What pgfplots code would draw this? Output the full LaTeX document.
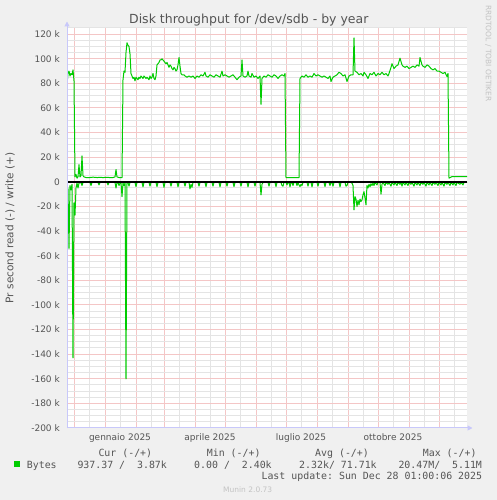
\documentclass[border=0pt]{standalone}
\usepackage{pgfplots}
\pgfplotsset{compat=1.18}
\usepackage{fontspec}
\setmainfont{DejaVu Sans}
\setmonofont{DejaVu Sans Mono}
\usetikzlibrary{arrows.meta}
\definecolor{bg}{RGB}{240,240,240}
\definecolor{mgrid}{RGB}{244,198,198}
\definecolor{ngrid}{RGB}{228,228,228}
\definecolor{axisc}{RGB}{200,200,250}
\definecolor{txt}{RGB}{85,85,85}
\definecolor{munin}{RGB}{0,204,0}
\definecolor{wm}{RGB}{195,195,195}
\begin{document}
\begin{tikzpicture}[x=1pt,y=1pt]
\useasboundingbox (0,0) rectangle (497,500);
\fill[bg] (0,0) rectangle (497,500);
\fill[white] (67,72) rectangle (467,472);
\begin{axis}[at={(67pt,72pt)}, anchor=south west, width=400pt, height=400pt, scale only axis,
 xmin=-38, xmax=362, ymin=-200, ymax=125,
 axis line style={draw=none},
 xtick={-31,0,31,59,90,120,151,181,212,243,273,304,334}, xticklabels={},
 minor xtick={-16,15,46,74,105,135,166,196,227,258,288,319,349},
 ytick={-200,-180,-160,-140,-120,-100,-80,-60,-40,-20,0,20,40,60,80,100,120},
 yticklabels={-200 k,-180 k,-160 k,-140 k,-120 k,-100 k,-80 k,-60 k,-40 k,-20 k,0,20 k,40 k,60 k,80 k,100 k,120 k},
 minor ytick={-195,-190,-185,-175,-170,-165,-155,-150,-145,-135,-130,-125,-115,-110,-105,-95,-90,-85,-75,-70,-65,-55,-50,-45,-35,-30,-25,-15,-10,-5,5,10,15,25,30,35,45,50,55,65,70,75,85,90,95,105,110,115,125},
 grid=both,
 major grid style={draw=mgrid, line width=1pt, solid},
 minor grid style={draw=ngrid, line width=1pt, solid},
 major tick length=0pt, minor tick length=0pt,
 tick label style={font=\fontsize{9}{10}\selectfont, text=txt},
 yticklabel style={anchor=east, inner sep=0pt, xshift=-7pt},
 extra x ticks={15,105,196,288},
 extra x tick labels={gennaio 2025, aprile 2025, luglio 2025, ottobre 2025},
 extra x tick style={grid=none, xticklabel style={anchor=base, inner sep=0pt, yshift=-12.6pt}},
 axis background/.style={fill=white}]
\addplot[munin, line width=1pt, line join=round] coordinates {
(-38,79) (-37,88) (-36,90) (-35,86) (-34,88) (-33,87) (-32,91) (-31,82) (-30,4) (-29,6) (-28,3) (-27,4) (-26,14) (-25,4) (-24,5) (-23,21) (-22,5) (-21,4) (-19,3.5) (-15,3.5) (-12,3.8) (-8,3.5) (-5,3.6) (-2,3.5) (2,3.6) (5,3.5) (8,3.5) (10,4) (11,10) (12,4) (14,3.5) (17,3.5) (18,83) (19,90) (20,89) (21,105) (22,113) (23,111) (24,110) (25,104) (26,88) (27,86) (28,84) (29,85) (30,82) (31,85) (32,84) (33,83) (34,85) (35,84) (36,86) (37,85) (38,84) (39,86) (40,85) (41,84) (42,85) (43,84) (44,83) (45,86) (46,84) (47,85) (48,88) (49,84) (50,83) (51,86) (52,95) (53,96) (54,97) (55,99) (56,99) (57,100) (58,99) (59,98) (60,97) (61,96) (62,97) (63,95) (64,93) (65,95) (66,94) (67,92) (68,91) (69,93) (70,92) (71,90) (72,91) (73,95) (74,101) (75,94) (76,88) (77,87)
(79,87) (80,86) (82,85) (84,86) (86,85) (88,86) (90,84) (92,86) (94,85) (96,87) (98,86) (100,89) (101,86) (103,85) (105,87) (107,86) (109,85) (111,87) (113,86) (115,85) (117,90) (118,86) (120,87) (122,86) (124,85) (126,86) (128,87) (130,85) (132,83) (134,85) (136,86) (137,99) (138,86) (140,85) (142,86) (143,90) (144,86) (146,85) (147,88) (149,85) (151,86) (153,84) (155,86) (156,63) (157,84) (159,86) (161,85) (163,87) (165,86) (167,85) (169,87) (171,86) (173,84) (175,86) (177,87) (179,86) (180,88) (181,3.5) (194,3.5) (195,84) (197,86) (199,85) (201,87) (203,85) (205,86) (207,85) (209,88) (211,86) (213,87) (215,86) (217,85) (219,86) (221,85) (223,84) (225,86) (226,81.5) (228,85) (230,86) (232,87) (234,89) (236,88) (238,86) (240,87) (242,81.5) (244,86) (246,87) (248,87) (249,117) (250,90) (252,89) (254,87) (256,88) (258,86) (259,89) (261,87) (263,84) (265,88) (267,87) (269,89) (271,86) (273,88) (275,87) (277,89) (279,87) (281,88) (283,86) (284,88) (286,93) (287,96) (289,92) (291,94) (293,95) (295,100.5) (297,95) (298,94) (300,93) (302,94) (304,92) (306,93) (308,94) (310,93) (312,95) (314,94) (315,101) (317,95) (318,94) (320,93) (322,95) (324,94) (326,92) (328,91) (330,92) (332,90) (334,90) (336,89) (338,88) (340,89) (342,85.5) (343,88) (344,3) (347,4.3) (362,4.3)
};
\addplot[munin, line width=1pt, line join=round] coordinates {
(-38,-2.4) (-37,-6) (-36,-54) (-35,-3) (-34,-6.5) (-33,-2) (-32,-143) (-31,-17) (-30,-27) (-29,-5) (-28,-1) (-27,-5) (-26,-1) (-24,-0.5) (-23,-3) (-22,-0.5) (-15,-0.5) (-14,-3) (-13,-0.5) (-7,-0.5) (-6,-2.5) (-5,-0.5) (2,-0.5) (3,-2.5) (4,-0.5) (10,-0.5) (11,-5) (12,-0.5) (13,-0.5) (14,-3) (15,-1) (16,-0.5) (17,-12) (18,-1) (19,-3) (20,-1) (21,-160) (22,-1) (23,-0.5) (24,-3.5) (25,-0.5)
(30,-0.5)(31,-3.8)(32,-0.5)
(37,-0.5)(38,-4)(39,-0.5)
(44,-0.5)(45,-3.5)(46,-0.5)
(51,-0.5)(52,-3.8)(53,-0.5)
(58,-0.5)(59,-4.5)(60,-0.5)
(65,-0.5)(66,-3.5)(67,-0.5)
(72,-0.5)(73,-4)(74,-0.5)
(79,-0.5)(80,-3.5)(81,-0.5)
(84,-0.5)(85,-5.7)(86,-2)(87,-4.5)(88,-0.5)
(93,-0.5)(94,-3.5)(95,-0.5)
(100,-0.5)(101,-3.8)(102,-0.5)
(107,-0.5)(108,-3.5)(109,-0.5)
(114,-0.5)(115,-4)(116,-0.5)
(121,-0.5)(122,-3.5)(123,-0.5)
(128,-0.5)(129,-3.8)(130,-0.5)
(135,-0.5)(136,-3.5)(137,-0.5)
(142,-0.5)(143,-4)(144,-0.5)
(149,-0.5)(150,-3.5)(151,-0.5)
(155,-0.5)(156,-10.6)(157,-2)(158,-0.5)
(163,-0.5)(164,-3.5)(165,-0.5)
(170,-0.5)(171,-3.8)(172,-0.5)
(176,-0.5)(177,-3)(178,-3.5)(179,-0.5)
(181,-0.5)(182,-2.5)(183,-0.5)
(184,-0.5)(185,-4)(186,-0.5)
(187,-0.5)(188,-3)(189,-0.5)
(191,-0.5)(192,-3)(193,-0.5)(194,-2.5)(195,-3.8)(196,-2)(197,-3)(198,-0.5)
(202,-0.5)(203,-3.5)(204,-0.5)
(206,-0.5)(207,-4)(208,-0.5)
(212,-0.5)(213,-3.5)(214,-0.5)
(219,-0.5)(220,-3.8)(221,-0.5)
(224,-0.5)(225,-3)(226,-0.5)
(227,-0.5)(228,-3.5)(229,-0.5)
(234,-0.5)(235,-4)(236,-0.5)
(240,-0.5)(241,-3.5)(242,-3)(243,-0.5)
(246,-0.5)(247,-1)(248,-3)(249,-22.8)(250,-12)(251,-14)(252,-20)(253,-15)(254,-18.7)(255,-14)(256,-16)(257,-14.6)(258,-10.6)(259,-8)(260,-13)(261,-18.7)(262,-3)(263,-5)(264,-2)(265,-4)(266,-1.5)(267,-3)(268,-1)
(269,-3)(270,-0.5)(272,-2.5)(273,-0.5)(275,-0.5)(276,-10)(277,-2)(278,-0.5)
(280,-3)(281,-0.5)(283,-2)(284,-0.5)(286,-3.5)(287,-0.5)(289,-2.5)(290,-0.5)
(292,-3)(293,-0.5)(295,-2)(296,-0.5)(297,-3.5)(298,-0.5)(300,-2.5)(301,-0.5)
(303,-3)(304,-0.5)(306,-2)(307,-0.5)(309,-3.5)(310,-0.5)(312,-2.5)(313,-0.5)
(315,-3)(316,-0.5)(318,-2)(319,-0.5)(321,-3.5)(322,-0.5)(324,-2.5)(325,-0.5)
(327,-3)(328,-0.5)(330,-2)(331,-0.5)(333,-3)(334,-0.5)(336,-2.5)(337,-0.5)
(339,-3.5)(340,-0.5)(342,-2)(343,-0.5)(345,-3)(346,-0.5)(348,-2.5)(349,-0.5)
(351,-3)(352,-0.5)(355,-2)(356,-0.5)(358,-2.5)(359,-0.5)(362,-0.5)
};
\addplot[black, line width=1.5pt] coordinates {(-38,0) (362,0)};
\end{axis}
\draw[axisc, line width=1pt, -{Triangle[length=5pt,width=5pt]}] (67,71.5) -- (67,478.5);
\draw[axisc, line width=1pt, -{Triangle[length=5pt,width=5pt]}] (66.5,72) -- (472.5,72);
\node[txt, font=\fontsize{12.5}{14}\selectfont, anchor=base] at (248.8,476) {Disk throughput for /dev/sdb - by year};
\node[txt, rotate=90, font=\fontsize{10.5}{12}\selectfont] at (10,272) {Pr second read (-) / write (+)};
\node[wm, rotate=-90, font=\fontsize{7.5}{9}\selectfont] at (488.3,446.5) {RRDTOOL / TOBI OETIKER};
\fill[munin] (14,33) rectangle (19.5,38.5);
\begin{scope}[every node/.style={txt, font=\ttfamily\fontsize{9.9}{11}\selectfont, anchor=base west, inner sep=0pt}]
\node at (98.3,43.5) {Cur (-/+)};
\node at (206.7,43.5) {Min (-/+)};
\node at (315,43.5) {Avg (-/+)};
\node at (422.7,43.5) {Max (-/+)};
\node at (26.7,31.7) {Bytes};
\node at (77.3,31.7) {937.37 /\ \ 3.87k};
\node at (194,31.7) {0.00 /\ \ 2.40k};
\node at (299,31.7) {2.32k/ 71.71k};
\node at (398.3,31.7) {20.47M/\ \ 5.11M};
\node[anchor=base east] at (482.3,20) {Last update: Sun Dec 28 01:00:06 2025};
\end{scope}
\node[wm, font=\fontsize{7.5}{9}\selectfont, anchor=base] at (247.7,8) {Munin 2.0.73};
\end{tikzpicture}
\end{document}
